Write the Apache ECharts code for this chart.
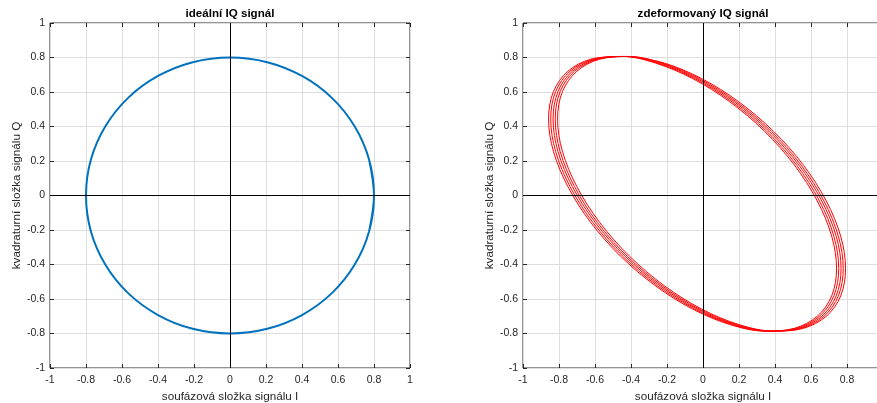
<!DOCTYPE html>
<html>
<head>
<meta charset="utf-8">
<script src="https://cdn.jsdelivr.net/npm/echarts@6/dist/echarts.min.js"></script>
<style>
  html, body { margin: 0; padding: 0; background: #fff; }
  #chart { width: 877px; height: 403px; }
</style>
</head>
<body>
<div id="chart"></div>
<script>
// ideal IQ signal (one point every 15 degrees)
const idealI = [0.8, 0.773, 0.693, 0.566, 0.4, 0.207, 0, -0.207, -0.4, -0.566, -0.693, -0.773,
  -0.8, -0.773, -0.693, -0.566, -0.4, -0.207, 0, 0.207, 0.4, 0.566, 0.693, 0.773]
const idealQ = [0, 0.207, 0.4, 0.566, 0.693, 0.773, 0.8, 0.773, 0.693, 0.566, 0.4, 0.207,
  0, -0.207, -0.4, -0.566, -0.693, -0.773, -0.8, -0.773, -0.693, -0.566, -0.4, -0.207]

// deformed IQ signal: 5 loops, Q shared, I read per loop (each loop drifts a little in I)
const deformedQ = [-0.424, -0.236, -0.032, 0.176, 0.372, 0.543, 0.678, 0.768, 0.806, 0.79, 0.72, 0.602,
  0.444, 0.256, 0.052, -0.156, -0.352, -0.523, -0.658, -0.748, -0.786, -0.77, -0.7, -0.582]
const deformedI1 = [0.742, 0.715, 0.635, 0.508, 0.342, 0.149, -0.058, -0.265, -0.458, -0.624, -0.751, -0.831,
  -0.858, -0.831, -0.751, -0.624, -0.458, -0.265, -0.058, 0.149, 0.342, 0.508, 0.635, 0.715]
const deformedI2 = [0.754, 0.727, 0.647, 0.52, 0.354, 0.161, -0.046, -0.253, -0.446, -0.612, -0.739, -0.819,
  -0.846, -0.819, -0.739, -0.612, -0.446, -0.253, -0.046, 0.161, 0.354, 0.52, 0.647, 0.727]
const deformedI3 = [0.767, 0.74, 0.66, 0.533, 0.367, 0.174, -0.033, -0.24, -0.433, -0.599, -0.726, -0.806,
  -0.833, -0.806, -0.726, -0.599, -0.433, -0.24, -0.033, 0.174, 0.367, 0.533, 0.66, 0.74]
const deformedI4 = [0.779, 0.752, 0.672, 0.545, 0.379, 0.186, -0.021, -0.228, -0.421, -0.587, -0.714, -0.794,
  -0.821, -0.794, -0.714, -0.587, -0.421, -0.228, -0.021, 0.186, 0.379, 0.545, 0.672, 0.752]
const deformedI5 = [0.792, 0.765, 0.685, 0.558, 0.392, 0.199, -0.008, -0.215, -0.408, -0.574, -0.701, -0.781,
  -0.808, -0.781, -0.701, -0.574, -0.408, -0.215, -0.008, 0.199, 0.392, 0.558, 0.685, 0.765]

const axisTicks = [-1, 1, 0.2] // min, max, step

// closed circle: wrap around with one extra point each side so the smoothing has no kink
const n = idealI.length
const idealData = [[idealI[n - 1], idealQ[n - 1]]]
for (let i = 0; i <= n + 1; i++) idealData.push([idealI[i % n], idealQ[i % n]])

// spiral: start every loop at the top (index 8) where the loops meet, so the joins don't show
const start = 8
const deformedData = []
const loops = [deformedI1, deformedI2, deformedI3, deformedI4, deformedI5]
loops.forEach(loop => {
  for (let i = 0; i < n; i++) {
    const k = (i + start) % n
    deformedData.push([loop[k], deformedQ[k]])
  }
})
deformedData.push([deformedI5[start], deformedQ[start]])

const fontFamily = '"Liberation Sans", Arial, sans-serif'
const ink = '#262626'
const base = { type: 'value', min: axisTicks[0], max: axisTicks[1], interval: axisTicks[2] }
const tick = { inside: true, length: 4, lineStyle: { color: ink } }
const label = { fontSize: 10.5, color: ink, fontFamily, showMinLabel: true, showMaxLabel: true }
const nameStyle = { fontSize: 11.7, color: ink, fontFamily }
const gridLine = { lineStyle: { color: '#dedede', width: 1 } }
const noLine = { show: false, onZero: false }

const makeX = (gi) => [
  { ...base, gridIndex: gi, position: 'bottom', name: 'soufázová složka signálu I', nameLocation: 'middle',
    nameGap: 21, nameTextStyle: nameStyle, axisLine: noLine, axisTick: tick,
    axisLabel: { ...label, margin: 7 }, splitLine: gridLine },
  { ...base, gridIndex: gi, position: 'top', axisLine: noLine, axisTick: tick,
    axisLabel: { show: false }, splitLine: { show: false } }
]
const makeY = (gi) => [
  { ...base, gridIndex: gi, position: 'left', name: 'kvadraturní složka signálu Q', nameLocation: 'middle',
    nameGap: 27, nameTextStyle: nameStyle, axisLine: noLine, axisTick: tick,
    axisLabel: { ...label, margin: 5 }, splitLine: gridLine },
  { ...base, gridIndex: gi, position: 'right', axisLine: noLine, axisTick: tick,
    axisLabel: { show: false }, splitLine: { show: false } }
]

const zeroLines = {
  silent: true, symbol: 'none', label: { show: false }, animation: false,
  lineStyle: { color: '#000', type: 'solid', width: 1 },
  data: [{ xAxis: 0 }, { yAxis: 0 }]
}

const titleFont = 'bold 11.6px ' + fontFamily
const chart = echarts.init(document.getElementById('chart'), null, { renderer: 'canvas' })
chart.setOption({
  animation: false,
  backgroundColor: '#fff',
  grid: [
    { left: 50, top: 23, width: 360, height: 345, show: true, borderColor: ink, borderWidth: 1,
      containLabel: false, outerBoundsMode: 'none' },
    { left: 523, top: 23, width: 360, height: 345, show: true, borderColor: ink, borderWidth: 1,
      containLabel: false, outerBoundsMode: 'none' }
  ],
  xAxis: [...makeX(0), ...makeX(1)],
  yAxis: [...makeY(0), ...makeY(1)],
  graphic: [
    { type: 'text', x: 230, y: 14, style: { text: 'ideální IQ signál', fill: '#000', font: titleFont, textAlign: 'center', textVerticalAlign: 'middle' } },
    { type: 'text', x: 703, y: 14, style: { text: 'zdeformovaný IQ signál', fill: '#000', font: titleFont, textAlign: 'center', textVerticalAlign: 'middle' } }
  ],
  series: [
    {
      type: 'line', xAxisIndex: 0, yAxisIndex: 0, data: idealData, smooth: 0.34,
      showSymbol: false, symbol: 'none', lineStyle: { color: '#0072BD', width: 2 }, markLine: zeroLines, z: 3
    },
    {
      type: 'line', xAxisIndex: 2, yAxisIndex: 2, data: deformedData, smooth: 0.34,
      showSymbol: false, symbol: 'none', lineStyle: { color: '#ff0000', width: 1 }, markLine: zeroLines, z: 3
    }
  ]
})
</script>
</body>
</html>
